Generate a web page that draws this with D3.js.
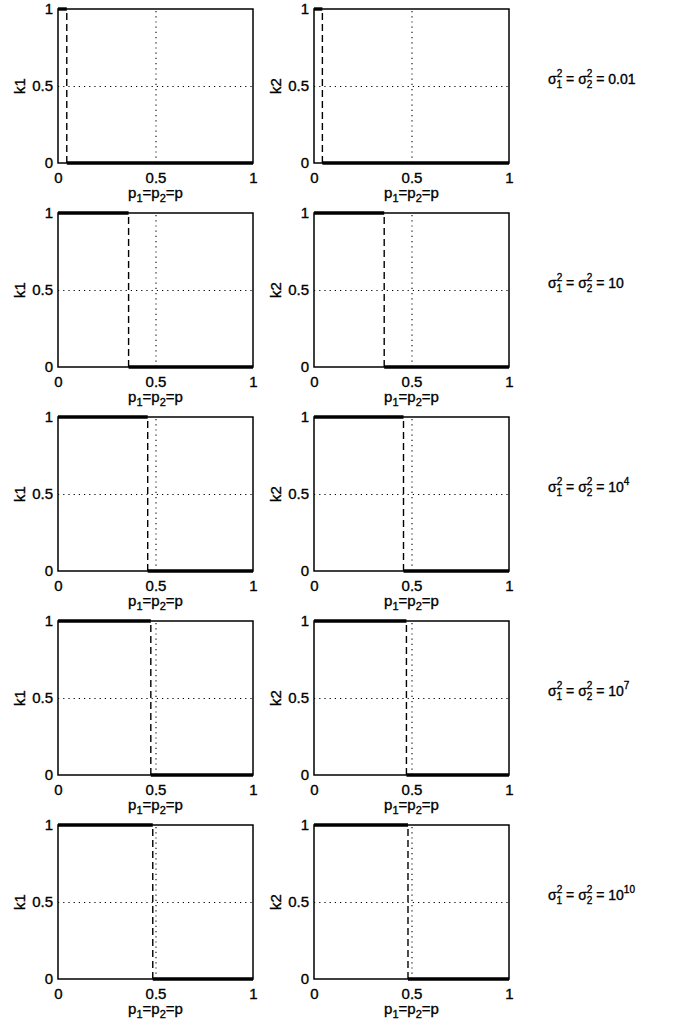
<!DOCTYPE html>
<html>
<head>
<meta charset="utf-8">
<script src="https://cdn.jsdelivr.net/npm/d3@7"></script>
<style>
  body { margin: 0; background: #fff; }
  svg text { font-family: "Liberation Sans", Arial, Helvetica, sans-serif; fill: #000; stroke: #000; stroke-width: 0.35px; }
</style>
</head>
<body>
<svg id="chart"></svg>
<script>
// one row per variance setting
const varianceBase = ['0.01', '10', '10', '10', '10'];
const varianceExp = ['', '', '4', '7', '10'];
// switching point p where k drops from 1 to 0
const switchK1 = [0.045, 0.362, 0.46, 0.476, 0.486];
const switchK2 = [0.043, 0.36, 0.459, 0.474, 0.482];
const panelNames = ['k1', 'k2'];
const xTicks = [0, 0.5, 1];
const yTicks = [0, 0.5, 1];
const tickLabels = ['0', '0.5', '1'];

const width = 679;
const height = 1026;
const plotW = 195;
const plotH = 154;
const colLeft = [58, 314];
const rowTop = d3.range(5).map(i => 9 + i * 204);

let svg = d3.select('#chart')
    .attr('width', width)
    .attr('height', height)

let xScale = d3.scaleLinear().domain([0, 1]).range([0, plotW])
let yScale = d3.scaleLinear().domain([0, 1]).range([plotH, 0])

let fmt = d => tickLabels[xTicks.indexOf(d)]

let drawPanel = (row, col) => {
    let k = col === 0 ? switchK1[row] : switchK2[row];
    let g = svg.append('g')
        .attr('transform', 'translate(' + colLeft[col] + ',' + rowTop[row] + ')')

    // dotted grid at 0.5
    g.append('g')
        .attr('class', 'grid')
        .attr('transform', 'translate(0,' + plotH + ')')
        .call(d3.axisBottom(xScale).tickValues([0.5]).tickSize(-plotH).tickFormat(''))
        .call(a => a.select('.domain').remove())
    g.append('g')
        .attr('class', 'grid')
        .call(d3.axisLeft(yScale).tickValues([0.5]).tickSize(-plotW).tickFormat(''))
        .call(a => a.select('.domain').remove())
    g.selectAll('.grid line')
        .attr('stroke', '#000')
        .attr('stroke-width', 1.1)
        .attr('stroke-dasharray', '1.2,4')

    // box
    g.append('rect')
        .attr('width', plotW)
        .attr('height', plotH)
        .attr('fill', 'none')
        .attr('stroke', '#000')
        .attr('stroke-width', 1.5)

    // axes labels
    let xAxis = d3.axisBottom(xScale).tickValues(xTicks).tickSize(0).tickPadding(9).tickFormat(fmt)
    let yAxis = d3.axisLeft(yScale).tickValues(yTicks).tickSize(0).tickPadding(5).tickFormat(fmt)

    g.append('g')
        .attr('transform', 'translate(0,' + plotH + ')')
        .call(xAxis)
        .call(a => a.select('.domain').remove())
        .selectAll('text').style('font-size', '15px')
    g.append('g')
        .call(yAxis)
        .call(a => a.select('.domain').remove())
        .selectAll('text').style('font-size', '15px')

    // dashed switch line
    g.append('line')
        .attr('x1', xScale(k)).attr('x2', xScale(k))
        .attr('y1', yScale(0)).attr('y2', yScale(1))
        .attr('stroke', '#000')
        .attr('stroke-width', 1.4)
        .attr('stroke-dasharray', '7,4')

    // thick step
    let segs = [[[0, 1], [k, 1]], [[k, 0], [1, 0]]];
    let line = d3.line().x(d => xScale(d[0])).y(d => yScale(d[1]))
    g.selectAll('path.step')
        .data(segs)
        .enter()
        .append('path')
        .attr('class', 'step')
        .attr('d', line)
        .attr('fill', 'none')
        .attr('stroke', '#000')
        .attr('stroke-width', 3.4)

    // y label
    g.append('text')
        .attr('transform', 'translate(' + (-33) + ',' + (plotH / 2) + ') rotate(-90)')
        .attr('text-anchor', 'middle')
        .style('font-size', '15px')
        .text(panelNames[col])

    // x label p1=p2=p
    let xl = g.append('text')
        .attr('x', plotW / 2)
        .attr('y', plotH + 35)
        .attr('text-anchor', 'middle')
        .style('font-size', '15px')
    xl.append('tspan').text('p')
    xl.append('tspan').attr('dy', 4).style('font-size', '11px').text('1')
    xl.append('tspan').attr('dy', -4).text('=p')
    xl.append('tspan').attr('dy', 4).style('font-size', '11px').text('2')
    xl.append('tspan').attr('dy', -4).text('=p')
}

let drawVarianceLabel = (row) => {
    let t = svg.append('text')
        .attr('x', 548)
        .attr('y', rowTop[row] + 75)
        .style('font-size', '14px')
    let sigma = (sub) => {
        t.append('tspan').text('σ')
        t.append('tspan').attr('dy', -7).style('font-size', '10px').text('2')
        t.append('tspan').attr('dx', -5.6).attr('dy', 11).style('font-size', '10px').text(sub)
        t.append('tspan').attr('dy', -4).text(' = ')
    }
    sigma('1')
    sigma('2')
    t.append('tspan').text(varianceBase[row])
    if (varianceExp[row] !== '') {
        t.append('tspan').attr('dy', -7).style('font-size', '10px').text(varianceExp[row])
    }
}

d3.range(5).forEach(row => {
    drawPanel(row, 0)
    drawPanel(row, 1)
    drawVarianceLabel(row)
})
</script>
</body>
</html>
